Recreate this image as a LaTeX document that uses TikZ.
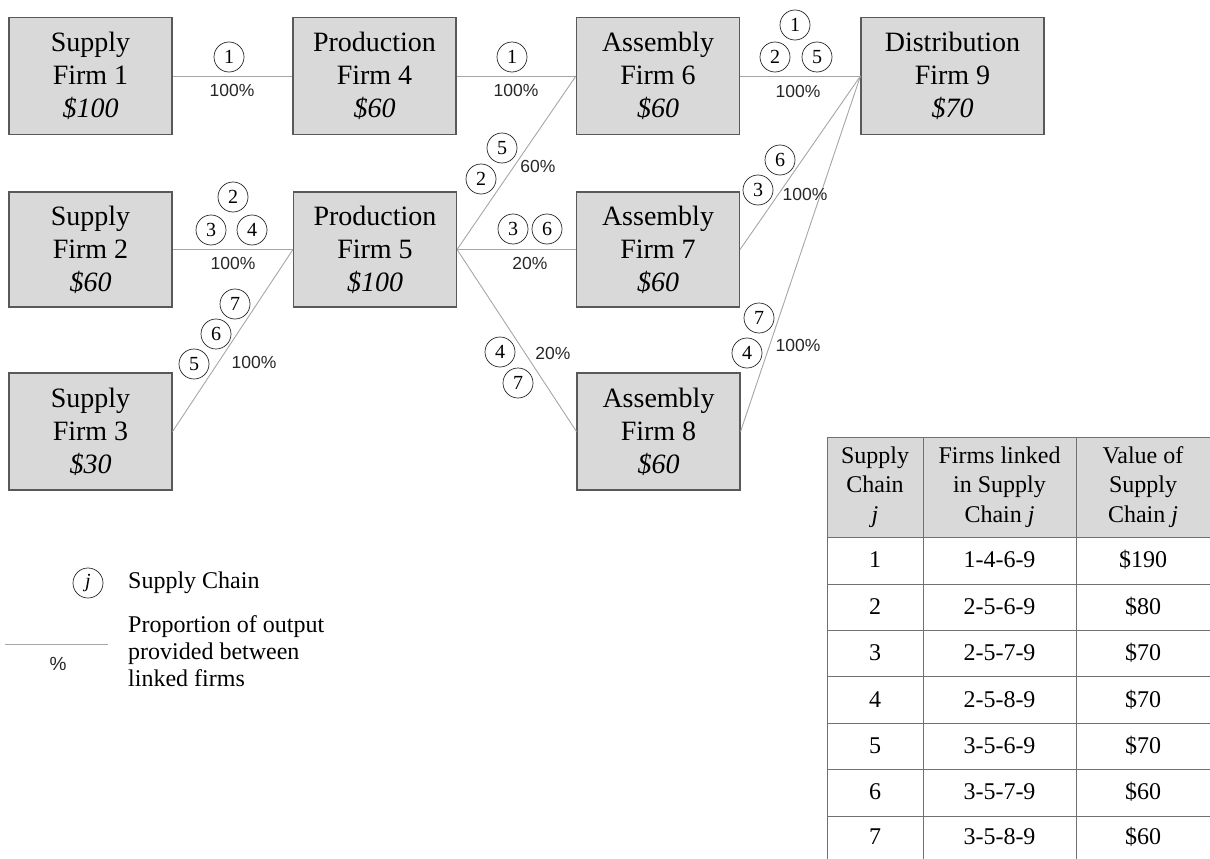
\documentclass[tikz,border=0pt]{standalone}
\usepackage{fontspec}
\setmainfont{Liberation Serif}
\newfontfamily\pctfont{Liberation Sans}
\definecolor{boxfill}{HTML}{D9D9D9}
\definecolor{boxline}{HTML}{595959}
\definecolor{linkcol}{HTML}{A6A6A6}
\definecolor{tabline}{HTML}{707070}
\begin{document}
\begin{tikzpicture}[x=1pt,y=-1pt,
  firm/.style={draw=boxline, line width=1.1pt, fill=boxfill, minimum width=163pt, minimum height=117pt,
    inner sep=0pt, align=center, font=\fontsize{28}{33}\selectfont},
  link/.style={draw=linkcol, line width=0.9pt},
  chn/.style={circle, draw=black!85, line width=0.7pt, minimum size=30pt, inner sep=0pt,
    font=\fontsize{20}{20}\selectfont},
  pct/.style={inner sep=0pt, font=\pctfont\fontsize{17.5}{17.5}\selectfont, text=black!85},
  cell/.style={inner sep=0pt, align=center, font=\fontsize{24}{29.5}\selectfont}]
\useasboundingbox (0,0) rectangle (1210,859);

% firms
\node[firm] (f1) at (90.5,76) {Supply\\Firm 1\\\textit{\$100}};
\node[firm] (f4) at (374.5,76) {Production\\Firm 4\\\textit{\$60}};
\node[firm] (f6) at (658,76) {Assembly\\Firm 6\\\textit{\$60}};
\node[firm, minimum width=183pt] (f9) at (952.5,76) {Distribution\\Firm 9\\\textit{\$70}};
\node[firm, minimum height=115pt] (f2) at (90.5,249.5) {Supply\\Firm 2\\\textit{\$60}};
\node[firm, minimum height=115pt] (f5) at (375,249.5) {Production\\Firm 5\\\textit{\$100}};
\node[firm, minimum height=115pt] (f7) at (658,249.5) {Assembly\\Firm 7\\\textit{\$60}};
\node[firm] (f3) at (90.5,431.5) {Supply\\Firm 3\\\textit{\$30}};
\node[firm] (f8) at (658.5,431.5) {Assembly\\Firm 8\\\textit{\$60}};

% links
\draw[link] (f1.east) -- (f4.west);
\draw[link] (f4.east) -- (f6.west);
\draw[link] (f6.east) -- (f9.west);
\draw[link] (f2.east) -- (f5.west);
\draw[link] (f3.east) -- (f5.west);
\draw[link] (f5.east) -- (f6.west);
\draw[link] (f5.east) -- (f7.west);
\draw[link] (f5.east) -- (f8.west);
\draw[link] (f7.east) -- (f9.west);
\draw[link] (f8.east) -- (f9.west);

% chain labels 1-4
\node[chn] (a1) at (229,57) {1};
\node[pct] (ap) at (232,90) {100\%};
% 4-6
\node[chn] (b1) at (512,57) {1};
\node[pct] (bp) at (516,90) {100\%};
% 6-9
\node[chn] (c1) at (795,25) {1};
\node[chn] (c2) at (775,57) {2};
\node[chn] (c5) at (817,57) {5};
\node[pct] (cp) at (798,91) {100\%};
% 2-5
\node[chn] (d2) at (233,197) {2};
\node[chn] (d3) at (211,230) {3};
\node[chn] (d4) at (252,230) {4};
\node[pct] (dp) at (233,263) {100\%};
% 3-5
\node[chn] (e7) at (235,304) {7};
\node[chn] (e6) at (216,334) {6};
\node[chn] (e5) at (194,364) {5};
\node[pct] (ep) at (254,362) {100\%};
% 5-6
\node[chn] (g5) at (502,148) {5};
\node[chn] (g2) at (481,179) {2};
\node[pct] (gp) at (538,166) {60\%};
% 5-7
\node[chn] (h3) at (513,229) {3};
\node[chn] (h6) at (547,229) {6};
\node[pct] (hp) at (530,263) {20\%};
% 5-8
\node[chn] (k4) at (500,352) {4};
\node[chn] (k7) at (518,383) {7};
\node[pct] (kp) at (553,353) {20\%};
% 7-9
\node[chn] (m6) at (780,160) {6};
\node[chn] (m3) at (758,190) {3};
\node[pct] (mp) at (805,194) {100\%};
% 8-9
\node[chn] (n7) at (759,318) {7};
\node[chn] (n4) at (747,353) {4};
\node[pct] (np) at (798,345) {100\%};

% legend
\node[chn] (lj) at (88,583) {\textit{j}};
\node[anchor=west, inner sep=0pt, font=\fontsize{24}{27}\selectfont] (lt1) at (128,583) {Supply Chain};
\coordinate (la) at (5,644);
\coordinate (lb) at (108,644);
\draw[link] (la) -- (lb);
\node[pct, font=\pctfont\fontsize{19}{19}\selectfont] (lpc) at (58,664) {\%};
\node[anchor=west, inner sep=0pt, align=left, font=\fontsize{24}{27}\selectfont] (lt2) at (128,651)
  {Proportion of output\\provided between\\linked firms};

% table
\fill[boxfill] (827,437) rectangle (1210,537);
\draw[tabline, line width=1pt] (827,437) -- (1210,437);
\foreach \yy in {537,584,630,676,723,769,816}
  \draw[tabline, line width=1pt] (827,\yy) -- (1210,\yy);
\foreach \xx in {827,923,1076}
  \draw[tabline, line width=1pt] (\xx,437) -- (\xx,859);
\node[cell] (h1) at (875,487) {Supply\\Chain\\\textit{j}};
\node[cell] (h2) at (999.5,487) {Firms linked\\in Supply\\Chain \textit{j}};
\node[cell] (h3) at (1143,487) {Value of\\Supply\\Chain \textit{j}};
\foreach \r/\yy/\fl/\vv in {1/560/1-4-6-9/190, 2/607/2-5-6-9/80, 3/653/2-5-7-9/70, 4/700/2-5-8-9/70,
   5/746/3-5-6-9/70, 6/792/3-5-7-9/60, 7/837/3-5-8-9/60}{
  \node[cell] (r\r a) at (875,\yy) {\r};
  \node[cell] (r\r b) at (999.5,\yy) {\fl};
  \node[cell] (r\r c) at (1143,\yy) {\$\vv};
}
\end{tikzpicture}
\end{document}
